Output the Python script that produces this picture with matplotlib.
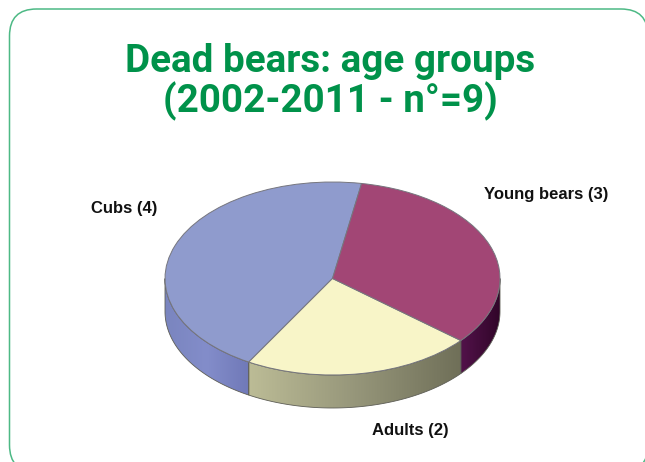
import numpy as np
import matplotlib
import matplotlib.pyplot as plt
from matplotlib.colors import LinearSegmentedColormap
from matplotlib.patches import FancyBboxPatch, Polygon

matplotlib.use('Agg')

categories = ['Cubs', 'Adults', 'Young bears']
values = [4, 2, 3]
title_lines = ['Dead bears: age groups', '(2002-2011 - n°=9)']

top_colors = ['#8f9bcd', '#f8f5c8', '#a24675']
side_colors = [['#7a85bf', '#838dca', '#7079b8'],
               ['#bcbc96', '#96967a', '#6f6f58'],
               ['#52124a', '#300528']]

W, H = 645, 462
cx, cy, rx, ry = 332.5, 278.5, 167.5, 96.5
depth = 33 / ry
start = 80

fig = plt.figure(figsize=(W / 100, H / 100), dpi=100)

# pixel axes for the frame and all the text
bg = fig.add_axes([0, 0, 1, 1])
bg.set_xlim(0, W)
bg.set_ylim(H, 0)
bg.axis('off')
bg.add_patch(FancyBboxPatch((9.5 + 27, 9 + 27), 648 - 9.5 - 54, 472 - 9 - 54,
                            boxstyle='round,pad=27,rounding_size=27',
                            fc='white', ec='#4db985', lw=1.1, clip_on=True))

for line, y in zip(title_lines, [72, 112]):
    bg.text(330, y, line, ha='center', va='baseline', color='#00924a',
            fontsize=27.8, fontweight='bold', family='Roboto')

label_pos = [(124, 208.5), (410.5, 430.5), (546, 194.5)]
for name, val, (x, y) in zip(categories, values, label_pos):
    bg.text(x, y, f'{name} ({val})', ha='center', va='center', color='#111111',
            fontsize=12, fontweight='bold', family='Liberation Sans')

# pie axes: one data unit is the ellipse radius, so the circle gets squashed
ax = fig.add_axes([0, 0, 1, 1])
ax.patch.set_visible(False)

angles = start + np.cumsum([0] + values) * 360 / sum(values)
bands = [(180, angles[1]), (angles[1], angles[2]), (angles[2], 360)]
for (t0, t1), cols in zip(bands, side_colors):
    t = np.radians(np.linspace(t0, t1, 80))
    xs, ys = np.cos(t), np.sin(t)
    pts = np.vstack([np.c_[xs, ys], np.c_[xs[::-1], ys[::-1] - depth]])
    band = Polygon(pts, closed=True, fc='none', ec='#5d5d55', lw=0.6, zorder=2)
    ax.add_patch(band)
    cmap = LinearSegmentedColormap.from_list('side', cols)
    im = ax.imshow(np.linspace(0, 1, 256).reshape(1, -1), cmap=cmap, aspect='auto',
                   extent=(xs.min(), xs.max(), ys.min() - depth, ys.max()), zorder=1)
    im.set_clip_path(band)

ax.pie(values, colors=top_colors, startangle=start, radius=1, counterclock=True,
       wedgeprops={'edgecolor': '#76767e', 'linewidth': 0.7, 'zorder': 3})

ax.set_aspect('auto')
ax.set_xlim(-cx / rx, (W - cx) / rx)
ax.set_ylim((cy - H) / ry, cy / ry)
ax.axis('off')

plt.savefig('out.png', dpi=100)
plt.close()
